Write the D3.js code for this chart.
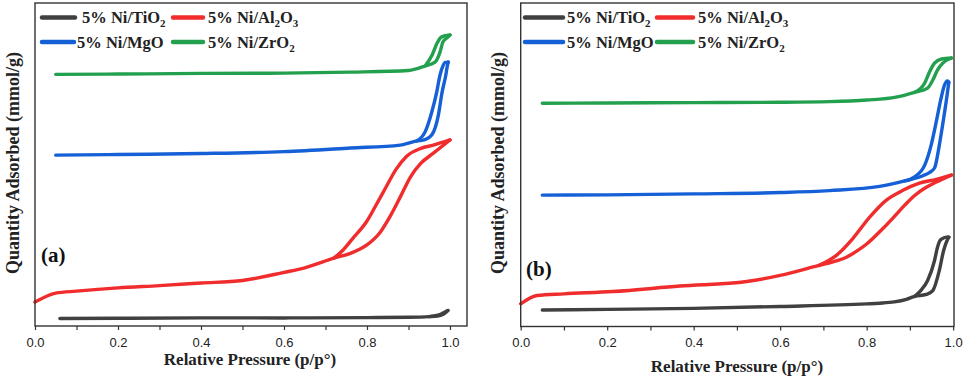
<!DOCTYPE html>
<html>
<head>
<meta charset="utf-8">
<script src="https://cdn.jsdelivr.net/npm/d3@7"></script>
<style>
  html, body { margin: 0; padding: 0; background: #fff; }
  svg { display: block; }
</style>
</head>
<body>
<svg id="chart" width="963" height="376"></svg>
<script>
// ---------- DATA (relative pressure p/p°, quantity adsorbed, arbitrary mmol/g) ----------
const seriesNames = [
  ["5% Ni/TiO", "2"],
  ["5% Ni/Al", "2", "O", "3"],
  ["5% Ni/MgO"],
  ["5% Ni/ZrO", "2"]
];
const seriesColors = ["#404040", "#f02c2c", "#1560d6", "#22a04e"];
const xTickValues = [0, 0.2, 0.4, 0.6, 0.8, 1.0];
const xMinorTicks = [0.1, 0.3, 0.5, 0.7, 0.9];

// Panel (a) adsorption / desorption branches
const a_TiO2_ads = [[0.06,0.23],[0.2,0.24],[0.4,0.25],[0.6,0.25],[0.8,0.26],[0.9,0.27],[0.95,0.29],[0.97,0.31],[0.985,0.37],[0.995,0.48]];
const a_TiO2_des = [[0.99,0.45],[0.98,0.38],[0.965,0.32],[0.95,0.29]];
const a_Al2O3_ads = [[0,0.74],[0.05,1.02],[0.1,1.08],[0.2,1.18],[0.3,1.25],[0.4,1.33],[0.5,1.41],[0.6,1.66],[0.65,1.80],[0.72,2.10],[0.76,2.25],[0.8,2.51],[0.83,2.87],[0.855,3.38],[0.88,3.99],[0.905,4.62],[0.93,5.04],[0.96,5.35],[1.0,5.76]];
const a_Al2O3_des = [[0.96,5.60],[0.93,5.50],[0.895,5.25],[0.87,4.85],[0.845,4.28],[0.82,3.70],[0.80,3.25],[0.765,2.70],[0.74,2.32],[0.72,2.10]];
const a_MgO_ads = [[0.05,5.29],[0.2,5.31],[0.4,5.34],[0.6,5.40],[0.76,5.51],[0.88,5.60],[0.92,5.73],[0.94,5.77],[0.956,5.91],[0.972,6.53],[0.981,7.24],[0.99,7.77],[0.994,8.08],[0.996,8.17]];
const a_MgO_des = [[0.988,8.16],[0.984,8.08],[0.976,7.77],[0.968,7.24],[0.956,6.62],[0.94,6.01],[0.92,5.73]];
const a_ZrO2_ads = [[0.05,7.79],[0.2,7.80],[0.4,7.82],[0.6,7.83],[0.76,7.86],[0.9,7.91],[0.94,8.05],[0.964,8.17],[0.976,8.48],[0.983,8.79],[0.993,8.92],[1.0,9.01]];
const a_ZrO2_des = [[0.98,8.95],[0.969,8.76],[0.957,8.39],[0.94,8.05]];

// Panel (b)
const b_TiO2_ads = [[0.05,0.51],[0.2,0.53],[0.4,0.56],[0.6,0.62],[0.8,0.70],[0.83,0.72],[0.864,0.76],[0.892,0.84],[0.911,0.93],[0.938,0.99],[0.953,1.11],[0.968,1.73],[0.978,2.35],[0.986,2.66],[0.99,2.76]];
const b_TiO2_des = [[0.988,2.77],[0.972,2.69],[0.964,2.46],[0.957,2.04],[0.941,1.42],[0.925,1.11],[0.911,0.93]];
const b_Al2O3_ads = [[0,0.70],[0.038,0.96],[0.1,1.01],[0.213,1.08],[0.368,1.25],[0.523,1.39],[0.6,1.58],[0.676,1.84],[0.69,1.89],[0.72,1.99],[0.753,2.14],[0.776,2.32],[0.8,2.55],[0.837,3.02],[0.864,3.40],[0.888,3.75],[0.911,4.05],[0.935,4.28],[0.96,4.46],[0.996,4.68]];
const b_Al2O3_des = [[0.961,4.55],[0.922,4.43],[0.884,4.21],[0.845,3.90],[0.807,3.38],[0.768,2.72],[0.73,2.20],[0.69,1.89]];
const b_MgO_ads = [[0.05,4.06],[0.2,4.07],[0.4,4.10],[0.6,4.14],[0.714,4.20],[0.83,4.33],[0.888,4.50],[0.93,4.66],[0.945,4.76],[0.957,4.90],[0.968,5.60],[0.978,6.43],[0.986,7.15],[0.99,7.55]];
const b_MgO_des = [[0.987,7.59],[0.98,7.46],[0.972,7.05],[0.961,6.33],[0.949,5.60],[0.934,4.98],[0.91,4.62],[0.888,4.50]];
const b_ZrO2_ads = [[0.05,6.90],[0.2,6.91],[0.4,6.92],[0.6,6.93],[0.714,6.95],[0.8,7.00],[0.868,7.09],[0.911,7.24],[0.941,7.37],[0.953,7.62],[0.964,7.93],[0.976,8.14],[0.996,8.30]];
const b_ZrO2_des = [[0.973,8.27],[0.957,8.14],[0.945,7.86],[0.934,7.52],[0.911,7.24]];

const panels = [
  { label: "(a)", xDomainMax: 1.041, series: [[a_TiO2_ads,a_TiO2_des],[a_Al2O3_ads,a_Al2O3_des],[a_MgO_ads,a_MgO_des],[a_ZrO2_ads,a_ZrO2_des]] },
  { label: "(b)", xDomainMax: 1.002, series: [[b_TiO2_ads,b_TiO2_des],[b_Al2O3_ads,b_Al2O3_des],[b_MgO_ads,b_MgO_des],[b_ZrO2_ads,b_ZrO2_des]] }
];

// ---------- LAYOUT ----------
const layout = [
  { left: 35, right: 467, top: 3, bottom: 326, ytitleX: 19, xtitleX: 250, xtitleY: 365, labelX: 41, labelY: 262,
    legend: { swatch: [[42,75],[173,203],[42,74],[173,203]], text: [82,208,77,208] } },
  { left: 520.7, right: 954, top: 3, bottom: 326.5, ytitleX: 504, xtitleX: 737, xtitleY: 372, labelX: 526, labelY: 276,
    legend: { swatch: [[525,563],[657,693],[525,563],[657,693]], text: [567,698,567,698] } }
];
const legendRows = [17.5, 17.5, 42, 42];

const svg = d3.select("#chart");
const serif = "'Liberation Serif','Times New Roman',serif";
const sans = "'Liberation Sans',Arial,sans-serif";

panels.forEach((panel, pi) => {
  const L = layout[pi];
  const x = d3.scaleLinear().domain([0, panel.xDomainMax]).range([L.left, L.right]);
  const y = d3.scaleLinear().domain([0, 10]).range([L.bottom, L.top]);
  const g = svg.append("g");

  // curves: adsorption branch + desorption branch (each drawn monotone in p)
  const line = d3.line().x(d => x(d[0])).y(d => y(d[1])).curve(d3.curveMonotoneX);
  panel.series.forEach((s, si) => {
    const ads = s[0];
    const top = ads[ads.length - 1];
    const des = [top].concat(s[1]).sort((a, b) => a[0] - b[0]);
    [ads, des].forEach(br => {
      g.append("path").attr("d", line(br))
        .attr("fill", "none").attr("stroke", seriesColors[si])
        .attr("stroke-width", 3.4).attr("stroke-linejoin", "round").attr("stroke-linecap", "round");
    });
  });

  // frame
  g.append("rect").attr("x", L.left).attr("y", L.top)
    .attr("width", L.right - L.left).attr("height", L.bottom - L.top)
    .attr("fill", "none").attr("stroke", "#333").attr("stroke-width", 1.4);

  // x axis
  const ax = g.append("g").attr("transform", `translate(0,${L.bottom})`)
    .call(d3.axisBottom(x).tickValues(xTickValues).tickFormat(d3.format(".1f")).tickSize(4).tickSizeOuter(0));
  ax.select(".domain").remove();
  ax.selectAll("line").attr("stroke", "#333").attr("stroke-width", 1.2);
  ax.selectAll("text").attr("font-family", sans).attr("font-size", 13).attr("fill", "#222").attr("dy", "1.05em");
  const axm = g.append("g").attr("transform", `translate(0,${L.bottom})`)
    .call(d3.axisBottom(x).tickValues(xMinorTicks).tickFormat("").tickSize(4).tickSizeOuter(0));
  axm.select(".domain").remove();
  axm.selectAll("line").attr("stroke", "#333").attr("stroke-width", 1.2);

  // axis titles
  g.append("text").attr("x", L.xtitleX).attr("y", L.xtitleY)
    .attr("text-anchor", "middle").attr("font-family", serif).attr("font-weight", "bold")
    .attr("font-size", 17).attr("fill", "#222").text("Relative Pressure (p/p°)");
  g.append("text").attr("transform", `translate(${L.ytitleX},163) rotate(-90)`)
    .attr("text-anchor", "middle").attr("font-family", serif).attr("font-weight", "bold")
    .attr("font-size", 18).attr("fill", "#222").text("Quantity Adsorbed (mmol/g)");

  // panel label
  g.append("text").attr("x", L.labelX).attr("y", L.labelY)
    .attr("font-family", serif).attr("font-weight", "bold").attr("font-size", 21).attr("fill", "#111")
    .text(panel.label);

  // legend
  seriesNames.forEach((nm, si) => {
    const sw = L.legend.swatch[si];
    const yy = legendRows[si];
    g.append("line").attr("x1", sw[0]).attr("x2", sw[1]).attr("y1", yy).attr("y2", yy)
      .attr("stroke", seriesColors[si]).attr("stroke-width", 4.5).attr("stroke-linecap", "round");
    const t = g.append("text").attr("x", L.legend.text[si]).attr("y", yy + 5.5)
      .attr("font-family", serif).attr("font-weight", "bold").attr("font-size", 16.5).attr("fill", "#222");
    nm.forEach((part, k) => {
      const sub = k % 2 === 1;
      t.append("tspan").text(part)
        .attr("font-size", sub ? 11 : 16.5)
        .attr("dy", sub ? 4 : (k > 0 ? -4 : 0));
    });
  });
});
</script>
</body>
</html>
